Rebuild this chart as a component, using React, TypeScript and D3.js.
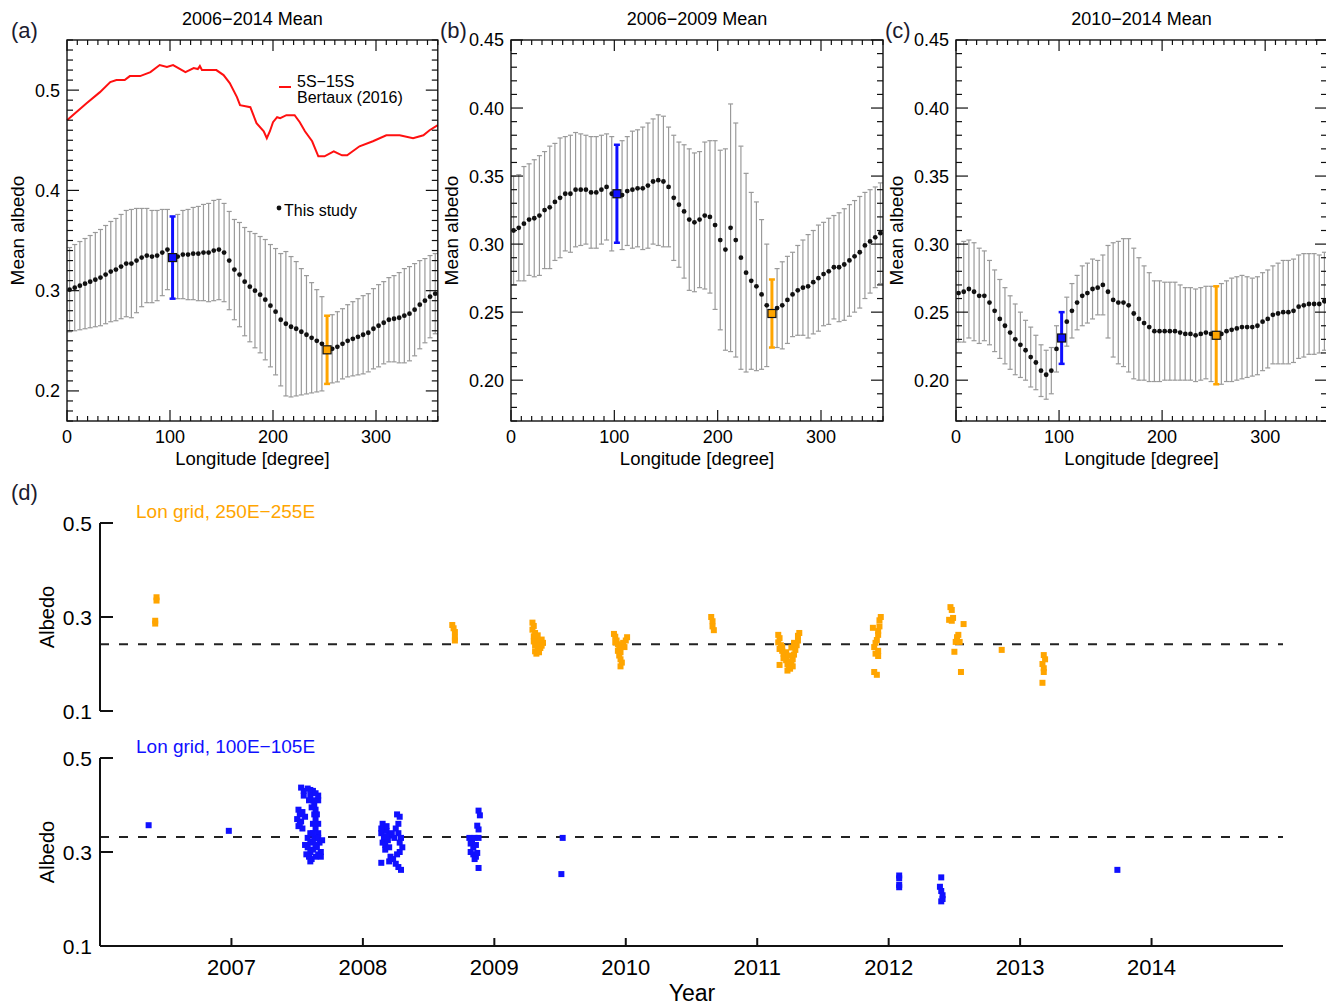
import React from "react";
import * as d3 from "d3";

const FONT = "'Liberation Sans', Arial, Helvetica, sans-serif";

// 5-degree longitude grid (bin centres)
const lonGrid = d3.range(72).map((i) => 2.5 + 5 * i);
const HL_BLUE = 20; // 100E-105E
const HL_ORANGE = 50; // 250E-255E

// (a) 2006-2014
const meanA = [0.301,0.303,0.305,0.307,0.309,0.311,0.313,0.316,0.319,0.321,0.324,0.327,0.327,0.330,0.333,0.335,0.334,0.335,0.338,0.341,0.333,0.334,0.336,0.336,0.337,0.337,0.338,0.338,0.340,0.341,0.338,0.330,0.321,0.316,0.309,0.304,0.300,0.296,0.291,0.285,0.279,0.271,0.267,0.264,0.262,0.259,0.256,0.253,0.250,0.247,0.241,0.242,0.244,0.247,0.250,0.252,0.254,0.256,0.258,0.262,0.265,0.268,0.271,0.272,0.273,0.275,0.277,0.281,0.286,0.290,0.294,0.297];
const sdA = [0.042,0.043,0.044,0.045,0.046,0.047,0.048,0.049,0.050,0.051,0.052,0.053,0.054,0.052,0.049,0.047,0.046,0.045,0.043,0.040,0.041,0.042,0.044,0.045,0.046,0.047,0.048,0.049,0.050,0.050,0.049,0.049,0.050,0.052,0.054,0.055,0.057,0.058,0.060,0.061,0.063,0.066,0.072,0.070,0.067,0.063,0.059,0.055,0.051,0.047,0.034,0.034,0.035,0.035,0.036,0.037,0.038,0.039,0.039,0.040,0.041,0.041,0.042,0.043,0.045,0.047,0.047,0.046,0.044,0.042,0.041,0.040];

// (b) 2006-2009
const meanB = [0.310,0.312,0.315,0.318,0.319,0.321,0.325,0.327,0.331,0.334,0.337,0.337,0.340,0.340,0.340,0.338,0.338,0.340,0.342,0.337,0.337,0.336,0.339,0.340,0.341,0.341,0.343,0.346,0.347,0.346,0.342,0.334,0.329,0.324,0.318,0.316,0.318,0.321,0.320,0.314,0.303,0.296,0.312,0.303,0.290,0.279,0.273,0.269,0.263,0.255,0.249,0.253,0.255,0.259,0.263,0.266,0.268,0.269,0.272,0.275,0.278,0.280,0.283,0.283,0.285,0.288,0.291,0.294,0.299,0.302,0.305,0.308];
const sdB = [0.040,0.039,0.042,0.041,0.043,0.044,0.043,0.045,0.043,0.044,0.042,0.043,0.042,0.041,0.040,0.041,0.041,0.040,0.039,0.042,0.036,0.040,0.040,0.043,0.043,0.045,0.046,0.046,0.048,0.048,0.044,0.046,0.046,0.049,0.052,0.051,0.050,0.054,0.056,0.062,0.066,0.074,0.091,0.086,0.082,0.073,0.065,0.062,0.055,0.045,0.025,0.029,0.032,0.032,0.031,0.033,0.035,0.038,0.038,0.039,0.038,0.039,0.038,0.040,0.041,0.041,0.041,0.041,0.039,0.038,0.037,0.037];

// (c) 2010-2014
const meanC = [0.264,0.265,0.267,0.265,0.262,0.262,0.257,0.251,0.245,0.240,0.235,0.230,0.226,0.222,0.217,0.213,0.207,0.204,0.207,0.223,0.231,0.243,0.251,0.257,0.262,0.264,0.267,0.268,0.270,0.265,0.259,0.257,0.257,0.255,0.249,0.245,0.242,0.239,0.236,0.236,0.236,0.236,0.236,0.235,0.234,0.234,0.233,0.234,0.235,0.234,0.233,0.234,0.236,0.237,0.238,0.239,0.239,0.239,0.240,0.243,0.245,0.248,0.249,0.250,0.250,0.251,0.254,0.255,0.256,0.256,0.256,0.258];
const sdC = [0.036,0.037,0.036,0.036,0.035,0.033,0.031,0.030,0.029,0.028,0.027,0.026,0.024,0.022,0.022,0.020,0.019,0.018,0.017,0.017,0.019,0.018,0.020,0.020,0.022,0.022,0.022,0.020,0.022,0.034,0.042,0.045,0.047,0.049,0.048,0.045,0.042,0.040,0.037,0.037,0.036,0.036,0.036,0.035,0.034,0.034,0.034,0.034,0.034,0.035,0.036,0.037,0.037,0.038,0.038,0.038,0.037,0.036,0.036,0.036,0.036,0.036,0.037,0.038,0.038,0.038,0.038,0.038,0.037,0.037,0.036,0.036];

// Bertaux (2016), 5S-15S
const bertauxLon = [0,19,32,42,48,56,61,71,81,90,97,103,115,123,127,129,131,136,145,152,158,165,168,178,184,191,194,197,200,204,207,213,221,226,231,238,244,250,259,263,267,272,284,297,310,323,336,346,352,360];
const bertauxAlb = [0.470,0.487,0.498,0.508,0.510,0.510,0.514,0.514,0.518,0.525,0.523,0.525,0.518,0.522,0.521,0.524,0.520,0.520,0.520,0.515,0.507,0.493,0.485,0.483,0.467,0.459,0.452,0.459,0.468,0.473,0.472,0.475,0.475,0.468,0.459,0.449,0.434,0.434,0.439,0.437,0.435,0.435,0.444,0.449,0.455,0.455,0.452,0.455,0.460,0.465];

// (d) individual observations [year, albedo]
const orangeObs = [
  [2006.43,0.342],[2006.43,0.335],[2006.42,0.292],[2006.42,0.286],
  [2008.68,0.283],[2008.69,0.276],[2008.70,0.268],[2008.70,0.256],[2008.70,0.250],
  [2009.29,0.288],[2009.30,0.281],[2009.29,0.273],[2009.31,0.266],[2009.30,0.259],[2009.32,0.254],[2009.33,0.250],[2009.35,0.247],[2009.34,0.242],[2009.36,0.239],[2009.35,0.234],[2009.33,0.231],[2009.31,0.227],[2009.32,0.222],[2009.34,0.225],[2009.37,0.245],[2009.31,0.240],[2009.33,0.261],[2009.36,0.252],[2009.30,0.248],
  [2009.91,0.264],[2009.92,0.258],[2009.93,0.250],[2009.94,0.242],[2010.01,0.257],[2010.00,0.250],[2009.98,0.245],[2009.96,0.238],[2009.95,0.232],[2009.96,0.225],[2009.95,0.218],[2009.96,0.210],[2009.97,0.203],[2009.96,0.195],[2009.94,0.228],[2009.99,0.236],[2009.92,0.246],
  [2010.65,0.300],[2010.66,0.291],[2010.66,0.280],[2010.67,0.272],
  [2011.16,0.262],[2011.17,0.255],[2011.16,0.246],[2011.18,0.240],[2011.17,0.232],[2011.19,0.228],[2011.20,0.222],[2011.21,0.215],[2011.22,0.208],[2011.23,0.200],[2011.24,0.192],[2011.23,0.186],[2011.25,0.190],[2011.26,0.200],[2011.27,0.210],[2011.28,0.220],[2011.29,0.230],[2011.30,0.240],[2011.31,0.250],[2011.31,0.260],[2011.32,0.266],[2011.17,0.198],[2011.20,0.212],[2011.25,0.205],[2011.27,0.195],[2011.22,0.225],[2011.26,0.235],[2011.28,0.245],[2011.19,0.236],[2011.24,0.218],
  [2011.94,0.300],[2011.93,0.293],[2011.93,0.280],[2011.88,0.277],[2011.92,0.270],[2011.92,0.262],[2011.91,0.251],[2011.90,0.245],[2011.89,0.236],[2011.92,0.228],[2011.92,0.217],[2011.90,0.222],[2011.89,0.183],[2011.91,0.177],
  [2012.47,0.321],[2012.48,0.315],[2012.49,0.298],[2012.46,0.294],[2012.48,0.292],[2012.57,0.285],[2012.53,0.262],[2012.52,0.257],[2012.51,0.247],[2012.54,0.247],[2012.50,0.226],[2012.55,0.183],
  [2012.86,0.230],
  [2013.18,0.219],[2013.19,0.210],[2013.17,0.200],[2013.18,0.191],[2013.18,0.183],[2013.17,0.160],
];

const blueObs = [
  [2006.37,0.357],[2006.98,0.345],
  [2007.53,0.437],[2007.55,0.430],[2007.58,0.435],[2007.60,0.432],[2007.62,0.430],[2007.55,0.420],[2007.60,0.420],[2007.62,0.410],[2007.63,0.400],[2007.64,0.390],[2007.63,0.380],[2007.64,0.370],[2007.62,0.360],[2007.64,0.350],[2007.66,0.340],[2007.63,0.330],
  [2007.51,0.390],[2007.52,0.380],[2007.50,0.370],[2007.53,0.365],[2007.51,0.355],[2007.54,0.350],[2007.52,0.360],[2007.56,0.375],[2007.54,0.385],
  [2007.58,0.330],[2007.60,0.320],[2007.56,0.315],[2007.58,0.310],[2007.60,0.300],[2007.62,0.305],[2007.65,0.310],[2007.67,0.320],[2007.68,0.300],[2007.57,0.295],[2007.59,0.290],[2007.61,0.285],[2007.60,0.280],[2007.64,0.290],[2007.66,0.295],[2007.68,0.290],[2007.66,0.330],[2007.69,0.325],[2007.62,0.340],[2007.66,0.360],[2007.65,0.380],[2007.61,0.395],[2007.59,0.410],[2007.66,0.410],[2007.66,0.420],[2007.64,0.425],[2007.62,0.322],[2007.64,0.315],[2007.60,0.340],
  [2008.15,0.360],[2008.16,0.350],[2008.14,0.340],[2008.16,0.330],[2008.15,0.320],[2008.17,0.315],[2008.18,0.345],[2008.19,0.325],[2008.17,0.305],[2008.20,0.310],[2008.20,0.335],[2008.22,0.340],[2008.14,0.277],[2008.21,0.290],[2008.20,0.280],[2008.23,0.285],[2008.25,0.275],[2008.27,0.268],[2008.29,0.262],[2008.26,0.380],[2008.28,0.375],[2008.27,0.360],[2008.25,0.350],[2008.27,0.340],[2008.29,0.330],[2008.28,0.320],[2008.30,0.310],[2008.28,0.300],[2008.26,0.295],[2008.24,0.330],[2008.18,0.355],[2008.14,0.350],[2008.18,0.333],
  [2008.88,0.388],[2008.89,0.378],[2008.87,0.356],[2008.88,0.348],[2008.81,0.330],[2008.83,0.325],[2008.85,0.330],[2008.88,0.330],[2008.82,0.318],[2008.84,0.310],[2008.86,0.315],[2008.82,0.300],[2008.84,0.295],[2008.86,0.290],[2008.85,0.285],[2008.87,0.298],[2008.88,0.266],
  [2009.52,0.330],[2009.51,0.253],
  [2012.08,0.250],[2012.08,0.244],[2012.08,0.230],[2012.08,0.225],
  [2012.40,0.246],[2012.39,0.226],[2012.40,0.217],[2012.41,0.208],[2012.41,0.200],[2012.40,0.195],
  [2013.74,0.262],
];

const orangeRef = 0.242;
const blueRef = 0.332;
const yearTicks = [2007, 2008, 2009, 2010, 2011, 2012, 2013, 2014];
const albTicks = [0.1, 0.3, 0.5];

const BLUE = "#1010ff";
const ORANGE = "#ffa500";
const GRAY = "#9a9a9a";

function LonPanel({ left, right, top, bottom, yDomain, yMajor, yFmt, mean, sd, title, tag, tagX, ylabX, extra }) {
  const x = d3.scaleLinear().domain([0, 360]).range([left, right]);
  const y = d3.scaleLinear().domain(yDomain).range([bottom, top]);
  const xTicks = d3.range(0, 361, 10);
  const yTicks = d3.range(Math.round(yDomain[0] * 100), Math.round(yDomain[1] * 100) + 1).map((k) => k / 100);
  const isMajY = (v) => yMajor.some((m) => Math.abs(m - v) < 1e-6);
  const hl = [
    { i: HL_BLUE, c: BLUE },
    { i: HL_ORANGE, c: ORANGE },
  ];

  return (
    <g>
      <text x={(left + right) / 2} y={25} textAnchor="middle" fontSize={18}>{title}</text>
      <text x={tagX} y={38} fontSize={22} fill="#1b1b2f">{tag}</text>

      {/* gray error bars */}
      {lonGrid.map((lon, i) => {
        if (i === HL_BLUE || i === HL_ORANGE) return null;
        const cx = x(lon);
        const y1 = y(mean[i] + sd[i]);
        const y2 = y(mean[i] - sd[i]);
        return (
          <g key={"e" + i} stroke={GRAY} strokeWidth={1.2}>
            <line x1={cx} x2={cx} y1={y1} y2={y2} />
            <line x1={cx - 2.5} x2={cx + 2.5} y1={y1} y2={y1} />
            <line x1={cx - 2.5} x2={cx + 2.5} y1={y2} y2={y2} />
          </g>
        );
      })}

      {extra ? extra(x, y) : null}

      {lonGrid.map((lon, i) =>
        i === HL_BLUE || i === HL_ORANGE ? null : (
          <circle key={"d" + i} cx={x(lon)} cy={y(mean[i])} r={2.4} fill="#111" />
        )
      )}

      {hl.map(({ i, c }) => {
        const cx = x(lonGrid[i]);
        const y1 = y(mean[i] + sd[i]);
        const y2 = y(mean[i] - sd[i]);
        return (
          <g key={"h" + i}>
            <g stroke={c} strokeWidth={3}>
              <line x1={cx} x2={cx} y1={y1} y2={y2} />
              <line x1={cx - 3} x2={cx + 3} y1={y1} y2={y1} strokeWidth={2.5} />
              <line x1={cx - 3} x2={cx + 3} y1={y2} y2={y2} strokeWidth={2.5} />
            </g>
            <rect x={cx - 4} y={y(mean[i]) - 4} width={8} height={8} fill={c} stroke="#111" strokeWidth={1.2} />
          </g>
        );
      })}

      {/* frame */}
      <rect x={left} y={top} width={right - left} height={bottom - top} fill="none" stroke="#111" strokeWidth={1.4} />
      {xTicks.map((t) => {
        const len = t % 100 === 0 ? 11 : 5;
        return (
          <g key={"xt" + t} stroke="#111" strokeWidth={1.2}>
            <line x1={x(t)} x2={x(t)} y1={bottom} y2={bottom - len} />
            <line x1={x(t)} x2={x(t)} y1={top} y2={top + len} />
          </g>
        );
      })}
      {yTicks.map((t) => {
        const len = isMajY(t) ? 12 : 6;
        return (
          <g key={"yt" + t} stroke="#111" strokeWidth={1.2}>
            <line x1={left} x2={left + len} y1={y(t)} y2={y(t)} />
            <line x1={right} x2={right - len} y1={y(t)} y2={y(t)} />
          </g>
        );
      })}
      {[0, 100, 200, 300].map((t) => (
        <text key={"xl" + t} x={x(t)} y={443} textAnchor="middle" fontSize={18}>{t}</text>
      ))}
      {yMajor.map((t) => (
        <text key={"yl" + t} x={left - 7} y={y(t)} dy="0.36em" textAnchor="end" fontSize={18}>{yFmt(t)}</text>
      ))}
      <text x={(left + right) / 2} y={465} textAnchor="middle" fontSize={18.5}>Longitude [degree]</text>
      <text transform={`translate(${ylabX},${(top + bottom) / 2}) rotate(-90)`} textAnchor="middle" fontSize={19}>Mean albedo</text>
    </g>
  );
}

export default function App() {
  const W = 1326;
  const H = 1006;

  // (d) scales
  const xd = d3.scaleLinear().domain([2006, 2015]).range([100, 1283]);
  const yUp = d3.scaleLinear().domain([0.1, 0.5]).range([711, 523]);
  const yLo = d3.scaleLinear().domain([0.1, 0.5]).range([946, 758]);

  const redLine = (x, y) =>
    d3.line().x((d) => x(d[0])).y((d) => y(d[1]))(bertauxLon.map((l, i) => [l, bertauxAlb[i]]));

  const extraA = (x, y) => (
    <g>
      <path d={redLine(x, y)} fill="none" stroke="#ff1010" strokeWidth={2} />
      <line x1={279} x2={291} y1={87} y2={87} stroke="#ff1010" strokeWidth={2} />
      <text x={297} y={87} fontSize={16}>5S−15S</text>
      <text x={297} y={103} fontSize={16}>Bertaux (2016)</text>
      <circle cx={279} cy={208} r={2.4} fill="#111" />
      <text x={284} y={216} fontSize={16}>This study</text>
    </g>
  );

  const subAxis = (yS) => (
    <g stroke="#111" strokeWidth={2}>
      <line x1={100} x2={100} y1={yS(0.5)} y2={yS(0.1)} />
      {albTicks.map((t) => (
        <line key={"at" + t} x1={100} x2={113} y1={yS(t)} y2={yS(t)} />
      ))}
    </g>
  );

  return (
    <svg width={W} height={H} style={{ position: "absolute", left: 0, top: 0, background: "#fff" }} fontFamily={FONT}>
      <rect x={0} y={0} width={W} height={H} fill="#fff" />

      <LonPanel left={67} right={437.8} top={40} bottom={421} yDomain={[0.17, 0.55]} yMajor={[0.2, 0.3, 0.4, 0.5]}
        yFmt={(v) => v.toFixed(1)} mean={meanA} sd={sdA} title="2006−2014 Mean" tag="(a)" tagX={11} ylabX={24} extra={extraA} />
      <LonPanel left={511} right={883} top={40} bottom={421} yDomain={[0.17, 0.45]} yMajor={[0.2, 0.25, 0.3, 0.35, 0.4, 0.45]}
        yFmt={(v) => v.toFixed(2)} mean={meanB} sd={sdB} title="2006−2009 Mean" tag="(b)" tagX={440} ylabX={458} />
      <LonPanel left={956} right={1327} top={40} bottom={421} yDomain={[0.17, 0.45]} yMajor={[0.2, 0.25, 0.3, 0.35, 0.4, 0.45]}
        yFmt={(v) => v.toFixed(2)} mean={meanC} sd={sdC} title="2010−2014 Mean" tag="(c)" tagX={885} ylabX={903} />

      {/* (d) */}
      <text x={11} y={500} fontSize={22} fill="#1b1b2f">(d)</text>

      {/* upper: 250E-255E */}
      <text x={136} y={518} fontSize={19} fill={ORANGE}>Lon grid, 250E−255E</text>
      <line x1={100} x2={1283} y1={yUp(orangeRef)} y2={yUp(orangeRef)} stroke="#222" strokeWidth={2} strokeDasharray="9,10" />
      {orangeObs.map((d, i) => (
        <rect key={"o" + i} x={xd(d[0]) - 3} y={yUp(d[1]) - 3} width={6} height={6} fill={ORANGE} />
      ))}
      {subAxis(yUp)}
      {albTicks.map((t) => (
        <text key={"ul" + t} x={92} y={yUp(t)} dy="0.36em" textAnchor="end" fontSize={21}>{t.toFixed(1)}</text>
      ))}
      <text transform={`translate(54,${(yUp(0.5) + yUp(0.1)) / 2}) rotate(-90)`} textAnchor="middle" fontSize={20}>Albedo</text>

      {/* lower: 100E-105E */}
      <text x={136} y={753} fontSize={19} fill={BLUE}>Lon grid, 100E−105E</text>
      <line x1={100} x2={1283} y1={yLo(blueRef)} y2={yLo(blueRef)} stroke="#222" strokeWidth={2} strokeDasharray="9,10" />
      {blueObs.map((d, i) => (
        <rect key={"b" + i} x={xd(d[0]) - 3} y={yLo(d[1]) - 3} width={6} height={6} fill={BLUE} />
      ))}
      {subAxis(yLo)}
      <line x1={100} x2={1283} y1={yLo(0.1)} y2={yLo(0.1)} stroke="#111" strokeWidth={2} />
      {yearTicks.map((t) => (
        <g key={"yr" + t}>
          <line x1={xd(t)} x2={xd(t)} y1={yLo(0.1)} y2={yLo(0.1) - 8} stroke="#111" strokeWidth={2} />
          <text x={xd(t)} y={975} textAnchor="middle" fontSize={22}>{t}</text>
        </g>
      ))}
      {albTicks.map((t) => (
        <text key={"ll" + t} x={92} y={yLo(t)} dy="0.36em" textAnchor="end" fontSize={21}>{t.toFixed(1)}</text>
      ))}
      <text transform={`translate(54,${(yLo(0.5) + yLo(0.1)) / 2}) rotate(-90)`} textAnchor="middle" fontSize={20}>Albedo</text>
      <text x={692} y={1001} textAnchor="middle" fontSize={23}>Year</text>
    </svg>
  );
}
